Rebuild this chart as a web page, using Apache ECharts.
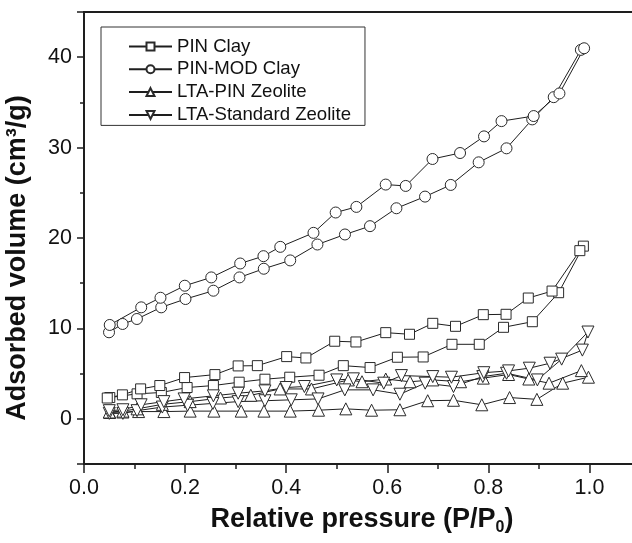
<!DOCTYPE html>
<html>
<head>
<meta charset="utf-8">
<script src="https://cdn.jsdelivr.net/npm/echarts@6/dist/echarts.min.js"></script>
<style>
html,body{margin:0;padding:0;background:#fff;}
#chart{width:632px;height:543px;}
</style>
</head>
<body>
<div id="chart"></div>
<script>
// ---- data ----
const seriesNames = ['PIN Clay', 'PIN-MOD Clay', 'LTA-PIN Zeolite', 'LTA-Standard Zeolite'];
const xTickLabels = ['0.0', '0.2', '0.4', '0.6', '0.8', '1.0'];
const yTickLabels = ['0', '10', '20', '30', '40'];

// PIN Clay
const pinClayAdsX = [0.051,0.105,0.153,0.204,0.256,0.307,0.358,0.407,0.465,0.513,0.566,0.620,0.671,0.728,0.782,0.830,0.887,0.939,0.988];
const pinClayAdsY = [2.35,2.76,2.91,3.46,3.68,4.05,4.38,4.60,4.82,5.88,5.67,6.81,6.84,8.24,8.24,10.12,10.74,13.95,19.1];
const pinClayDesX = [0.981,0.926,0.879,0.835,0.790,0.735,0.690,0.644,0.597,0.538,0.496,0.439,0.401,0.343,0.305,0.259,0.199,0.150,0.112,0.076,0.046];
const pinClayDesY = [18.6,14.13,13.36,11.56,11.52,10.23,10.56,9.35,9.53,8.50,8.58,6.73,6.88,5.88,5.85,4.89,4.56,3.68,3.31,2.65,2.3];

// PIN-MOD Clay
const pinModAdsX = [0.0495,0.0764,0.1047,0.1528,0.2008,0.256,0.3076,0.3557,0.408,0.4618,0.5163,0.5658,0.6181,0.6747,0.7256,0.7808,0.8359,0.8868,0.9293,0.983];
const pinModAdsY = [9.57,10.49,11.04,12.33,13.25,14.17,15.64,16.60,17.52,19.28,20.39,21.31,23.29,24.58,25.87,28.37,29.92,33.12,35.58,40.81];
const pinModDesX = [0.9894,0.9406,0.8897,0.826,0.7914,0.744,0.6895,0.6365,0.5969,0.5389,0.4979,0.454,0.3883,0.355,0.309,0.2518,0.1994,0.1513,0.1132,0.0509];
const pinModDesY = [40.99,35.99,33.49,32.93,31.24,29.40,28.74,25.76,25.91,23.44,22.82,20.57,19.02,17.99,17.18,15.64,14.72,13.39,12.33,10.38];

// LTA-PIN Zeolite
const ltaPinAdsX = [0.051,0.077,0.108,0.158,0.21,0.257,0.311,0.356,0.408,0.464,0.518,0.569,0.625,0.680,0.731,0.787,0.842,0.896,0.947,0.998];
const ltaPinAdsY = [0.7,0.75,0.8,0.8,0.85,0.85,0.85,0.85,0.85,0.95,1.1,0.95,1.0,2.0,2.05,1.55,2.35,2.15,3.94,4.6];
const ltaPinDesX = [0.984,0.920,0.880,0.840,0.790,0.745,0.690,0.645,0.597,0.550,0.523,0.450,0.388,0.330,0.270,0.210,0.155,0.105,0.077,0.050];
const ltaPinDesY = [5.33,3.94,4.4,4.9,4.5,4.1,4.3,4.1,4.4,4.1,4.3,3.3,3.3,2.6,2.3,1.9,1.6,1.1,0.85,0.75];

// LTA-Standard Zeolite
const ltaStdAdsX = [0.050,0.077,0.105,0.155,0.205,0.255,0.305,0.358,0.410,0.463,0.516,0.572,0.625,0.675,0.731,0.789,0.836,0.897,0.945,0.997];
const ltaStdAdsY = [0.6,0.6,0.9,1.3,1.5,1.7,1.9,2.0,2.1,2.2,3.2,3.2,2.72,3.94,3.57,4.67,5.04,4.3,6.6,9.6];
const ltaStdDesX = [0.986,0.922,0.881,0.840,0.791,0.727,0.690,0.628,0.593,0.533,0.500,0.436,0.400,0.358,0.305,0.256,0.198,0.158,0.113,0.077,0.050];
const ltaStdDesY = [7.6,6.15,5.6,5.3,5.1,4.6,4.67,4.78,3.94,4.42,4.3,3.57,3.46,3.09,2.83,2.54,2.2,1.9,1.55,1.0,0.9];

// ---- build ----
function loop(ax, ay, dx, dy) {
  const out = [];
  for (let i = 0; i < ax.length; i++) out.push([ax[i], ay[i]]);
  for (let i = 0; i < dx.length; i++) out.push([dx[i], dy[i]]);
  return out;
}
const FONT = 'Liberation Sans, Arial, sans-serif';
const INK = '#1e1e1e';
const X_MIN = 0, X_MAX = 1.1, Y_MIN = -5, Y_MAX = 45;

function mkSeries(name, data, symbol, size, rotate) {
  return {
    name: name,
    type: 'line',
    xAxisIndex: 0, yAxisIndex: 0,
    data: data,
    symbol: symbol,
    symbolSize: size,
    symbolRotate: rotate || 0,
    showAllSymbol: true,
    lineStyle: { color: INK, width: 1 },
    itemStyle: { color: '#ffffff', borderColor: '#2a2a2a', borderWidth: 1 },
    emphasis: { disabled: true },
    animation: false
  };
}

const chart = echarts.init(document.getElementById('chart'), null, { renderer: 'canvas' });
chart.setOption({
  backgroundColor: '#ffffff',
  animation: false,
  grid: {
    left: 84, right: -8, top: 12, bottom: 79,
    outerBoundsMode: 'none', containLabel: false,
    show: true, borderColor: INK, borderWidth: 2, backgroundColor: 'transparent'
  },
  legend: {
    orient: 'vertical',
    left: 101, top: 27,
    padding: [10, 14, 1, 27],
    itemGap: 3.8,
    itemWidth: 43,
    itemHeight: 10,
    borderColor: '#333',
    borderWidth: 1,
    data: seriesNames,
    textStyle: { fontFamily: FONT, fontSize: 18.6, color: '#111', lineHeight: 18 }
  },
  xAxis: [{
    type: 'value', min: X_MIN, max: X_MAX, interval: 0.2,
    axisLine: { show: true, onZero: false, lineStyle: { color: INK, width: 2 } },
    axisTick: { show: true, inside: false, length: 9, lineStyle: { color: INK, width: 1.5 } },
    splitLine: { show: false },
    axisLabel: {
      margin: 13, fontFamily: FONT, fontSize: 21.5, color: '#111',
      formatter: function (v) {
        const idx = Math.round(v / 0.2);
        return Math.abs(v - idx * 0.2) < 1e-6 && idx < xTickLabels.length ? xTickLabels[idx] : '';
      }
    },
    name: 'Relative pressure (P/P{sub|0})',
    nameLocation: 'middle',
    nameGap: 40,
    nameTextStyle: {
      fontFamily: FONT, fontSize: 27, fontWeight: 'bold', color: '#111', lineHeight: 32,
      rich: { sub: { fontFamily: FONT, fontSize: 16, fontWeight: 'bold', color: '#111', lineHeight: 2, verticalAlign: 'bottom' } }
    }
  }, {
    type: 'value', min: X_MIN, max: X_MAX, interval: 0.1, position: 'bottom',
    axisLine: { show: false, onZero: false },
    axisTick: { show: true, inside: false, length: 5, lineStyle: { color: INK, width: 1.5 } },
    axisLabel: { show: false },
    splitLine: { show: false }
  }],
  yAxis: [{
    type: 'value', min: Y_MIN, max: Y_MAX, splitNumber: 5,
    axisLine: { show: true, onZero: false, lineStyle: { color: INK, width: 2 } },
    axisTick: { show: true, inside: false, length: 7, lineStyle: { color: INK, width: 1.5 } },
    splitLine: { show: false },
    axisLabel: {
      margin: 12, fontFamily: FONT, fontSize: 21.5, color: '#111',
      formatter: function (v) {
        const idx = Math.round(v / 10);
        return Math.abs(v - idx * 10) < 1e-6 && idx >= 0 && idx < yTickLabels.length ? yTickLabels[idx] : '';
      }
    }
  }, {
    type: 'value', min: Y_MIN, max: Y_MAX, interval: 5, position: 'left',
    axisLine: { show: false, onZero: false },
    axisTick: { show: true, inside: false, length: 4, lineStyle: { color: INK, width: 1.5 } },
    axisLabel: { show: false },
    splitLine: { show: false }
  }],
  graphic: [{
    type: 'text',
    x: 18, y: 258,
    rotation: Math.PI / 2,
    style: {
      text: 'Adsorbed volume (cm³/g)',
      fontFamily: FONT, fontSize: 27, fontWeight: 'bold', fill: '#111',
      textAlign: 'center', textVerticalAlign: 'middle', align: 'center', verticalAlign: 'middle'
    }
  }],
  series: [
    mkSeries(seriesNames[0], loop(pinClayAdsX, pinClayAdsY, pinClayDesX, pinClayDesY), 'rect', 10),
    mkSeries(seriesNames[1], loop(pinModAdsX, pinModAdsY, pinModDesX, pinModDesY), 'circle', 11),
    mkSeries(seriesNames[2], loop(ltaPinAdsX, ltaPinAdsY, ltaPinDesX, ltaPinDesY), 'triangle', 12),
    mkSeries(seriesNames[3], loop(ltaStdAdsX, ltaStdAdsY, ltaStdDesX, ltaStdDesY), 'triangle', 12, 180)
  ]
});
</script>
</body>
</html>
